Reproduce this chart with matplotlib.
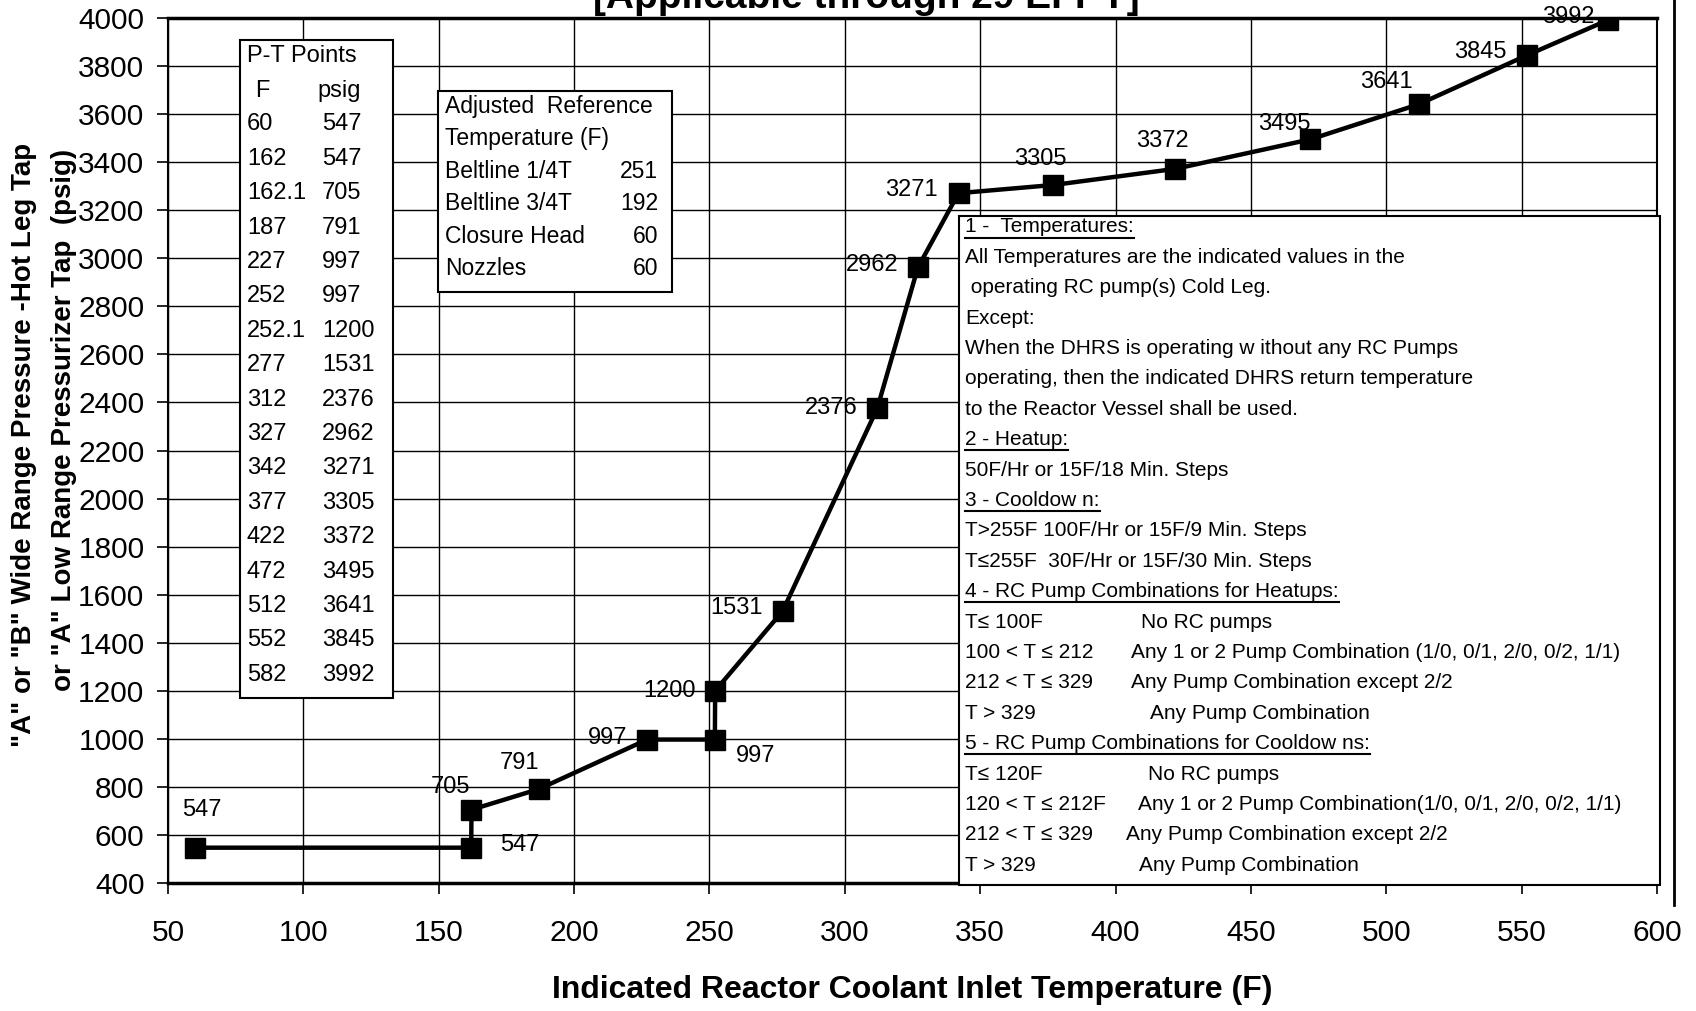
import matplotlib
matplotlib.use('Agg')
import matplotlib.pyplot as plt
from matplotlib.patches import Rectangle
from matplotlib.lines import Line2D

# P-T limit curve points
temps = [60, 162, 162.1, 187, 227, 252, 252.1, 277, 312, 327, 342, 377, 422, 472, 512, 552, 582]
press = [547, 547, 705, 791, 997, 997, 1200, 1531, 2376, 2962, 3271, 3305, 3372, 3495, 3641, 3845, 3992]

# adjusted reference temperatures
adj_names = ['Beltline 1/4T', 'Beltline 3/4T', 'Closure Head', 'Nozzles']
adj_values = [251, 192, 60, 60]

xticks = list(range(50, 601, 50))
yticks = list(range(400, 4001, 200))

# (text, second column, underlined)
notes = [
    ('1 -  Temperatures:', None, True),
    ('All Temperatures are the indicated values in the', None, False),
    (' operating RC pump(s) Cold Leg.', None, False),
    ('Except:', None, False),
    ('When the DHRS is operating w ithout any RC Pumps', None, False),
    ('operating, then the indicated DHRS return temperature', None, False),
    ('to the Reactor Vessel shall be used.', None, False),
    ('2 - Heatup:', None, True),
    ('50F/Hr or 15F/18 Min. Steps', None, False),
    ('3 - Cooldow n:', None, True),
    ('T>255F 100F/Hr or 15F/9 Min. Steps', None, False),
    ('T\u2264255F  30F/Hr or 15F/30 Min. Steps', None, False),
    ('4 - RC Pump Combinations for Heatups:', None, True),
    ('T\u2264 100F', 'No RC pumps', False),
    ('100 < T \u2264 212', 'Any 1 or 2 Pump Combination (1/0, 0/1, 2/0, 0/2, 1/1)', False),
    ('212 < T \u2264 329', 'Any Pump Combination except 2/2', False),
    ('T > 329', 'Any Pump Combination', False),
    ('5 - RC Pump Combinations for Cooldow ns:', None, True),
    ('T\u2264 120F', 'No RC pumps', False),
    ('120 < T \u2264 212F', 'Any 1 or 2 Pump Combination(1/0, 0/1, 2/0, 0/2, 1/1)', False),
    ('212 < T \u2264 329', 'Any Pump Combination except 2/2', False),
    ('T > 329', 'Any Pump Combination', False),
]
col2_x = [1141, 1131, 1131, 1150, 1148, 1138, 1126, 1139]

# label offsets (points) and alignment per point
lab_pos = [(5, 27, 'center'), (21, 2, 'left'), (-15, 16, 'center'), (-14, 19, 'center'),
           (-14, 1, 'right'), (15, -12, 'left'), (-14, 0, 'right'), (-14, 2, 'right'),
           (-14, 0, 'right'), (-14, 2, 'right'), (-15, 2, 'right'), (-9, 19, 'center'),
           (-9, 20, 'center'), (-19, 11, 'center'), (-23, 16, 'center'), (-15, 2, 'right'),
           (-10, 2, 'right')]

W, H = 1696, 1011
FONT = ['Liberation Sans', 'DejaVu Sans']
NARROW = ['Liberation Sans Narrow', 'Liberation Sans', 'DejaVu Sans']
plt.rcParams['font.family'] = FONT


def fx(px):
    return px / W


def fy(py):
    return 1 - py / H


fig = plt.figure(figsize=(W / 100, H / 100), dpi=100)
ax = fig.add_axes([fx(168), fy(883), fx(1657) - fx(168), fy(18) - fy(883)])

ax.plot(temps, press, color='black', lw=3.2, marker='s', ms=15, mfc='black', mec='black', zorder=3)
for t, p, (dx, dy, ha) in zip(temps, press, lab_pos):
    ax.annotate(str(p), (t, p), xytext=(dx, dy), textcoords='offset points',
                ha=ha, va='center', fontsize=17, zorder=4)

ax.set_xlim(50, 600)
ax.set_ylim(400, 4000)
ax.set_xticks(xticks)
ax.set_yticks(yticks)
ax.grid(True, color='black', lw=1.0, zorder=1)
ax.set_axisbelow(True)
ax.tick_params(axis='both', direction='out', length=8, width=1.2, labelsize=21.5, colors='black')
ax.tick_params(axis='x', pad=18)
ax.tick_params(axis='y', pad=9)
for s in ax.spines.values():
    s.set_linewidth(1.5)
ax.spines['bottom'].set_linewidth(2.5)
ax.spines['top'].set_linewidth(2.5)

ax.set_xlabel('Indicated Reactor Coolant Inlet Temperature (F)', fontsize=23, fontweight='bold',
              family=NARROW, labelpad=20)

fig.text(fx(24), fy(445), '"A" or "B" Wide Range Pressure -Hot Leg Tap', rotation=90,
         ha='center', va='center', fontsize=20, fontweight='bold')
fig.text(fx(64), fy(420), 'or "A" Low Range Pressurizer Tap  (psig)', rotation=90,
         ha='center', va='center', fontsize=20, fontweight='bold')

fig.text(fx(866), fy(8), '[Applicable through 29 EFPY]', ha='center', va='baseline',
         fontsize=28, fontweight='bold')

# outer chart-area border on the right
fig.add_artist(Line2D([fx(1674), fx(1674)], [fy(0), fy(905)], color='black', lw=2))

# P-T points box
fig.add_artist(Rectangle((fx(240), fy(698)), fx(393) - fx(240), fy(40) - fy(698),
                         facecolor='white', edgecolor='black', lw=1.5, zorder=5))
fig.text(fx(247), fy(56), 'P-T Points', fontsize=17, va='center', zorder=6)
fig.text(fx(255), fy(91), 'F', fontsize=17, va='center', zorder=6)
fig.text(fx(317), fy(91), 'psig', fontsize=17, va='center', zorder=6)
for i, (t, p) in enumerate(zip(temps, press)):
    y = 124.4 + i * 34.4
    fig.text(fx(247), fy(y), '%g' % t, fontsize=17, va='center', zorder=6)
    fig.text(fx(322), fy(y), str(p), fontsize=17, va='center', zorder=6)

# adjusted reference temperature box
fig.add_artist(Rectangle((fx(438), fy(292)), fx(672) - fx(438), fy(91) - fy(292),
                         facecolor='white', edgecolor='black', lw=1.5, zorder=5))
fig.text(fx(445), fy(107), 'Adjusted  Reference', fontsize=16.5, va='center', zorder=6)
fig.text(fx(445), fy(139), 'Temperature (F)', fontsize=16.5, va='center', zorder=6)
for i, (n, v) in enumerate(zip(adj_names, adj_values)):
    y = 171 + i * 32.6
    fig.text(fx(445), fy(y), n, fontsize=16.5, va='center', zorder=6)
    fig.text(fx(658), fy(y), str(v), fontsize=16.5, va='center', ha='right', zorder=6)

# notes box
fig.add_artist(Rectangle((fx(959), fy(885)), fx(1660) - fx(959), fy(216) - fy(885),
                         facecolor='white', edgecolor='black', lw=1.5, zorder=5))
heads = []
k = 0
for i, (a, b, u) in enumerate(notes):
    y = 227 + i * 30.4
    t = fig.text(fx(965), fy(y), a, fontsize=15, va='center', family=NARROW, zorder=6)
    if u:
        heads.append(t)
    if b is not None:
        fig.text(fx(col2_x[k]), fy(y), b, fontsize=15, va='center', family=NARROW, zorder=6)
        k += 1

fig.canvas.draw()
r = fig.canvas.get_renderer()
for t in heads:
    bb = t.get_window_extent(r)
    yy = (bb.y0 - 1) / H
    fig.add_artist(Line2D([bb.x0 / W, bb.x1 / W], [yy, yy], color='black', lw=1.5, zorder=6))

fig.savefig('out.png', dpi=100)
